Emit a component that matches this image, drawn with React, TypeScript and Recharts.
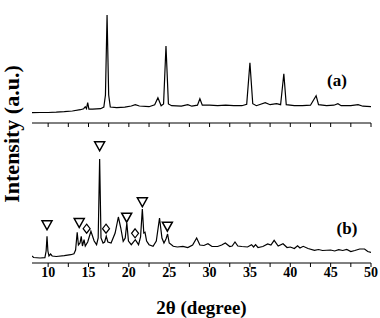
import React from "react";
import { ComposedChart, Line, Scatter, XAxis, YAxis, Label } from "recharts";

const FONT = '"Liberation Serif", "Times New Roman", serif';

// 2θ ticks (every 2.5°, labels every 5°)
const X_TICKS = [10, 12.5, 15, 17.5, 20, 22.5, 25, 27.5, 30, 32.5, 35, 37.5, 40, 42.5, 45, 47.5, 50];

// pattern (a): [2θ, intensity a.u.]
const PATTERN_A: [number, number][] = [
  [8, 10.3], [9, 10.5], [10, 10.5], [11, 10.8], [12, 11.3], [13, 12], [14, 13.3],
  [14.4, 14.3], [14.6, 16.3], [14.75, 14.3], [14.9, 20.3], [15.05, 13.8], [15.5, 13.8],
  [16.5, 14.3], [16.9, 16], [17.1, 28], [17.3, 108], [17.5, 28], [17.7, 16], [18.5, 15.3],
  [19.5, 15.8], [20.3, 17], [20.8, 18.3], [21.3, 17], [22.5, 16.3], [23.2, 18.3],
  [23.6, 25.3], [24.0, 17.3], [24.3, 19], [24.6, 77], [24.9, 19], [25.3, 17.3],
  [26.5, 16.8], [27.3, 18.3], [27.8, 16.8], [28.5, 17.8], [28.8, 24.3], [29.1, 17.8],
  [30, 17.8], [31, 17.3], [32, 17.8], [33, 17.3], [34, 17.3], [34.6, 18.8], [35.0, 60.3],
  [35.35, 19.3], [35.8, 17.3], [36.9, 20.3], [37.5, 18.3], [38.3, 19.3], [38.8, 18.3],
  [39.2, 49.3], [39.5, 18.3], [40.5, 17.3], [41.5, 17.3], [42.5, 17.8], [43.2, 27.3],
  [43.5, 18.3], [44.5, 17.3], [45.4, 17.8], [45.9, 19.3], [46.3, 17.3], [47.5, 17.3],
  [48.4, 18.3], [49, 16.8], [50, 16.3],
];

// pattern (b): [2θ, intensity a.u.]
const PATTERN_B: [number, number][] = [
  [8, 7], [8.2, 5.5], [9, 5], [9.6, 5.3], [9.75, 12], [9.86, 26.7], [9.97, 12], [10.1, 7],
  [10.3, 9], [10.5, 7], [11, 6.5], [12, 7.3], [12.8, 8.3], [13.2, 9.3], [13.4, 13],
  [13.6, 30.7], [13.75, 18], [13.95, 20], [14.1, 26.7], [14.25, 17], [14.45, 23.3],
  [14.6, 17], [14.9, 21], [15.3, 31.7], [15.7, 22], [16.0, 18.3], [16.2, 25], [16.38, 104],
  [16.55, 25], [16.8, 20], [17.0, 21], [17.2, 26.7], [17.4, 21], [17.8, 20], [18.3, 30],
  [18.7, 46], [19.0, 35], [19.3, 21.7], [19.55, 25], [19.75, 40], [19.95, 22], [20.3, 18.3],
  [20.8, 23.3], [21.2, 18.3], [21.45, 26], [21.67, 54], [21.85, 30], [22.0, 30.7],
  [22.2, 22], [22.5, 18.3], [23.0, 16.7], [23.4, 22], [23.8, 45], [24.1, 25], [24.35, 20],
  [24.6, 24], [24.8, 29], [25.0, 20], [25.5, 16.7], [26, 16], [26.7, 16.7], [27.3, 15.5],
  [27.9, 18], [28.4, 25], [28.8, 18], [29.3, 17.5], [29.8, 19.3], [30.3, 16.5], [31, 16.5],
  [31.5, 18], [31.95, 20], [32.5, 16.5], [32.8, 17], [33.15, 21], [33.5, 17], [34, 16.5],
  [34.7, 16], [35.2, 18.3], [35.45, 16], [35.7, 18.3], [36, 15.5], [36.6, 16.5],
  [37.2, 19], [37.6, 18], [38.0, 22.7], [38.5, 17], [39.1, 19.3], [39.6, 15.5], [40.0, 16],
  [40.5, 14.5], [40.9, 17.3], [41.2, 15], [41.6, 16.7], [42.2, 14.5], [43, 12.7],
  [43.5, 13.5], [44, 12.5], [45, 13], [45.5, 12], [46, 13.3], [46.5, 12.5], [47, 13.5],
  [47.5, 11.5], [48, 12.5], [48.6, 14], [49.2, 14], [49.6, 11.5], [50, 10.7],
];

// phase markers in (b)
const TRIANGLES: [number, number][] = [
  [9.86, 37.7], [13.85, 40], [16.38, 116.7], [19.73, 45.3], [21.67, 60.7], [24.77, 36.3],
];
const DIAMONDS: [number, number][] = [
  [14.77, 34.3], [17.17, 34.3], [20.77, 29.7],
];

const toRows = (pts: [number, number][]) => pts.map(([x, y]) => ({ x, y }));

function Triangle(props: any) {
  const { cx, cy } = props;
  const w = 5, h = 4.5;
  return (
    <polygon
      points={`${cx - w},${cy - h} ${cx + w},${cy - h} ${cx},${cy + h}`}
      fill="#fff"
      stroke="#000"
      strokeWidth={1.5}
    />
  );
}

function Diamond(props: any) {
  const { cx, cy } = props;
  return (
    <polygon
      points={`${cx},${cy - 4.5} ${cx + 3.5},${cy} ${cx},${cy + 4.5} ${cx - 3.5},${cy}`}
      fill="#fff"
      stroke="#000"
      strokeWidth={1.2}
    />
  );
}

const fmtTick = (v: number) => (v % 5 === 0 ? String(v) : "");

export default function App() {
  return (
    <div style={{ position: "absolute", left: 0, top: 0, width: 380, height: 318, background: "#fff", fontFamily: FONT }}>
      <div style={{ position: "absolute", left: 0, top: 0 }}>
        <ComposedChart width={380} height={130} margin={{ top: 3, right: 9, left: 32, bottom: 1 }}>
          <XAxis
            type="number"
            dataKey="x"
            domain={[8, 50]}
            ticks={X_TICKS}
            tickFormatter={() => ""}
            tick={{ fontSize: 1 }}
            tickSize={4}
            height={6}
            stroke="#000"
            interval={0}
            allowDataOverflow
          />
          <YAxis type="number" domain={[0, 120]} width={0} tick={false} tickLine={false} stroke="#000" />
          <Line
            data={toRows(PATTERN_A)}
            dataKey="y"
            type="linear"
            stroke="#000"
            strokeWidth={1.2}
            dot={false}
            isAnimationActive={false}
          />
        </ComposedChart>
      </div>
      <div style={{ position: "absolute", left: 0, top: 130 }}>
        <ComposedChart width={380} height={188} margin={{ top: 12, right: 9, left: 32, bottom: 0 }}>
          <XAxis
            type="number"
            dataKey="x"
            domain={[8, 50]}
            ticks={X_TICKS}
            tickFormatter={fmtTick}
            tick={{ fill: "#000", fontSize: 14, fontWeight: "bold", fontFamily: FONT }}
            tickSize={4}
            tickMargin={0}
            height={55}
            stroke="#000"
            interval={0}
            allowDataOverflow
          >
            <Label
              value="2θ (degree)"
              position="insideBottom"
              offset={4}
              style={{ fill: "#000", fontSize: 19, fontWeight: "bold", fontFamily: FONT }}
            />
          </XAxis>
          <YAxis type="number" domain={[0, 121]} width={0} tick={false} tickLine={false} stroke="#000" />
          <Line
            data={toRows(PATTERN_B)}
            dataKey="y"
            type="linear"
            stroke="#000"
            strokeWidth={1.2}
            dot={false}
            isAnimationActive={false}
          />
          <Scatter data={toRows(TRIANGLES)} dataKey="y" shape={<Triangle />} isAnimationActive={false} />
          <Scatter data={toRows(DIAMONDS)} dataKey="y" shape={<Diamond />} isAnimationActive={false} />
        </ComposedChart>
      </div>
      <div
        style={{
          position: "absolute",
          left: 12,
          top: 134,
          transform: "translate(-50%, -50%) rotate(-90deg)",
          whiteSpace: "nowrap",
          fontSize: 22,
          fontWeight: "bold",
          lineHeight: 1,
        }}
      >
        Intensity (a.u.)
      </div>
      <div style={{ position: "absolute", left: 337, top: 80, transform: "translate(-50%, -50%)", fontSize: 17, fontWeight: "bold", lineHeight: 1 }}>
        (a)
      </div>
      <div style={{ position: "absolute", left: 347, top: 228, transform: "translate(-50%, -50%)", fontSize: 17, fontWeight: "bold", lineHeight: 1 }}>
        (b)
      </div>
    </div>
  );
}
